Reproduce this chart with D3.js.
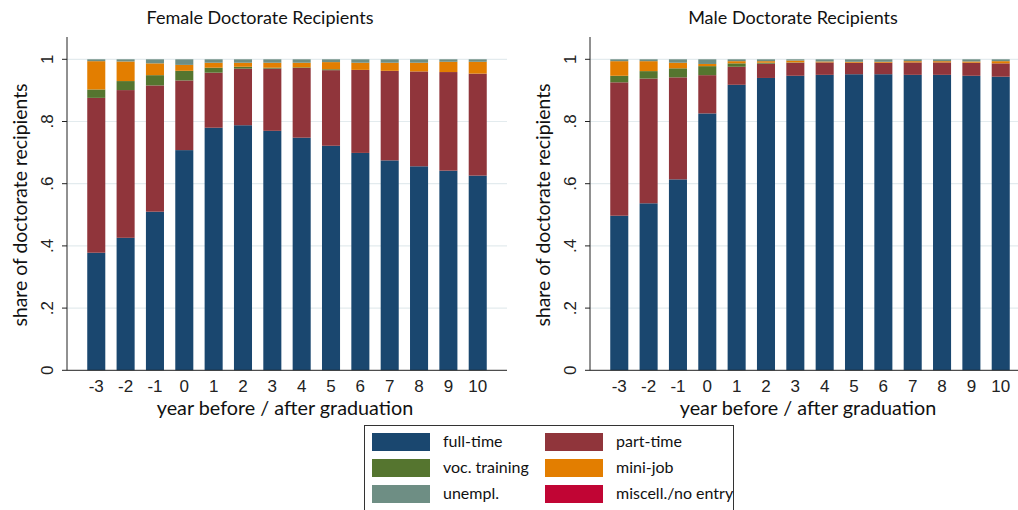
<!DOCTYPE html>
<html>
<head>
<meta charset="utf-8">
<script src="https://cdn.jsdelivr.net/npm/d3@7"></script>
<style>
  body { margin: 0; background: #fff; }
  svg { display: block; }
</style>
</head>
<body>
<div id="grafico"></div>
<script>
// categorias (anio antes / despues de la graduacion)
var years = ["-3","-2","-1","0","1","2","3","4","5","6","7","8","9","10"];
var yTicks = [0, 0.2, 0.4, 0.6, 0.8, 1];
var yTickLabels = ["0", ".2", ".4", ".6", ".8", "1"];

// mujeres
var femaleFull   = [0.378,0.426,0.510,0.708,0.780,0.788,0.770,0.748,0.722,0.699,0.675,0.656,0.642,0.626];
var femalePart   = [0.498,0.475,0.406,0.224,0.177,0.182,0.200,0.224,0.243,0.267,0.288,0.305,0.317,0.328];
var femaleVoc    = [0.027,0.029,0.033,0.031,0.016,0.006,0.003,0.002,0.003,0,0,0,0,0];
var femaleMini   = [0.091,0.063,0.038,0.019,0.016,0.013,0.016,0.015,0.023,0.023,0.026,0.028,0.033,0.038];
var femaleUnempl = [0.006,0.007,0.013,0.018,0.011,0.011,0.011,0.011,0.009,0.011,0.011,0.011,0.008,0.008];
var femaleMisc   = [0,0,0,0,0,0,0,0,0,0,0,0,0,0];

// hombres
var maleFull   = [0.497,0.537,0.614,0.826,0.918,0.940,0.947,0.950,0.952,0.952,0.950,0.950,0.947,0.944];
var malePart   = [0.429,0.401,0.328,0.123,0.058,0.046,0.042,0.040,0.037,0.037,0.040,0.040,0.042,0.043];
var maleVoc    = [0.021,0.024,0.029,0.029,0.011,0.003,0.001,0,0,0,0,0,0,0];
var maleMini   = [0.047,0.032,0.018,0.007,0.007,0.005,0.006,0.003,0.003,0.003,0.004,0.004,0.004,0.007];
var maleUnempl = [0.006,0.006,0.011,0.015,0.006,0.006,0.004,0.007,0.008,0.008,0.006,0.006,0.007,0.006];
var maleMisc   = [0,0,0,0,0,0,0,0,0,0,0,0,0,0];

var keys = ["full","part","voc","mini","unempl","misc"];
var legendLabels = ["full-time","part-time","voc. training","mini-job","unempl.","miscell./no entry"];
var colores = {full:"#1a476f", part:"#90353b", voc:"#55752f", mini:"#e37e00", unempl:"#6e8e84", misc:"#c10534"};

function tabla(full, part, voc, mini, unempl, misc) {
    return years.map(function (y, i) {
        return {year: y, full: full[i], part: part[i], voc: voc[i], mini: mini[i], unempl: unempl[i], misc: misc[i]};
    });
}

var W = 1018, H = 510;
var svg = d3.select("#grafico").append("svg").attr("width", W).attr("height", H);

var fuenteTitulo = "Lato, 'Open Sans', sans-serif";
var fuenteNum = "'Liberation Sans', Arial, sans-serif";

function panel(x0, titulo, centroTitulo, datos) {
    var pw = 440;          // ancho del area del grafico
    var yTop = 37;
    var y = d3.scaleLinear().domain([0, 1]).range([370.3, 59.3]);
    var x = d3.scaleBand().domain(years).range([x0, x0 + pw]).paddingInner(0.385).paddingOuter(0.69);

    var g = svg.append("g");

    // lineas de grilla
    g.selectAll("line.grid").data(yTicks.slice(1)).enter().append("line")
        .attr("x1", x0).attr("x2", x0 + pw)
        .attr("y1", function (d) { return y(d); }).attr("y2", function (d) { return y(d); })
        .attr("stroke", "#e3ebee").attr("stroke-width", 1.2);

    // barras apiladas
    var series = d3.stack().keys(keys)(datos);
    g.selectAll("g.serie").data(series).enter().append("g")
        .attr("fill", function (d) { return colores[d.key]; })
        .selectAll("rect").data(function (d) { return d; }).enter().append("rect")
        .attr("x", function (d) { return x(d.data.year); })
        .attr("width", x.bandwidth())
        .attr("y", function (d) { return y(d[1]); })
        .attr("height", function (d) { return Math.max(0, y(d[0]) - y(d[1])); });

    // ejes
    g.append("line").attr("x1", x0).attr("x2", x0).attr("y1", yTop).attr("y2", y(0))
        .attr("stroke", "#222").attr("stroke-width", 1);
    g.append("line").attr("x1", x0).attr("x2", x0 + pw).attr("y1", y(0)).attr("y2", y(0))
        .attr("stroke", "#222").attr("stroke-width", 1);

    g.selectAll("line.tick").data(yTicks).enter().append("line")
        .attr("x1", x0 - 5).attr("x2", x0)
        .attr("y1", function (d) { return y(d); }).attr("y2", function (d) { return y(d); })
        .attr("stroke", "#222");

    g.selectAll("text.ytick").data(yTicks).enter().append("text")
        .attr("transform", function (d) { return "translate(" + (x0 - 14) + "," + y(d) + ") rotate(-90)"; })
        .attr("text-anchor", "middle")
        .style("font-family", fuenteNum).style("font-size", "17px").style("fill", "#222")
        .text(function (d, i) { return yTickLabels[i]; });

    g.selectAll("text.xtick").data(years).enter().append("text")
        .attr("x", function (d) { return x(d) + x.bandwidth() / 2; })
        .attr("y", 392)
        .attr("text-anchor", "middle")
        .style("font-family", fuenteNum).style("font-size", "17px").style("fill", "#222")
        .text(function (d) { return d; });

    g.append("text").attr("x", x0 + 218).attr("y", 415).attr("text-anchor", "middle")
        .style("font-family", fuenteTitulo).style("font-size", "19.8px").style("fill", "#111")
        .text("year before / after graduation");

    g.append("text")
        .attr("transform", "translate(" + (x0 - 40) + "," + 205 + ") rotate(-90)")
        .attr("text-anchor", "middle")
        .style("font-family", fuenteTitulo).style("font-size", "19.4px").style("fill", "#111")
        .text("share of doctorate recipients");

    g.append("text").attr("x", centroTitulo).attr("y", 24).attr("text-anchor", "middle")
        .style("font-family", fuenteTitulo).style("font-size", "18px").style("fill", "#111")
        .text(titulo);
}

panel(67, "Female Doctorate Recipients", 260, tabla(femaleFull, femalePart, femaleVoc, femaleMini, femaleUnempl, femaleMisc));
panel(590, "Male Doctorate Recipients", 793, tabla(maleFull, malePart, maleVoc, maleMini, maleUnempl, maleMisc));

// leyenda
var ley = svg.append("g");
ley.append("rect").attr("x", 364.5).attr("y", 425.5).attr("width", 369).attr("height", 100)
    .attr("fill", "#fff").attr("stroke", "#333").attr("stroke-width", 1);
legendLabels.forEach(function (lab, i) {
    var col = i % 2, fila = Math.floor(i / 2);
    var sx = col == 0 ? 372 : 545;
    var sy = 433 + fila * 26;
    ley.append("rect").attr("x", sx).attr("y", sy).attr("width", 58).attr("height", 18)
        .attr("fill", colores[keys[i]]);
    ley.append("text").attr("x", sx + 71).attr("y", sy + 14)
        .style("font-family", fuenteTitulo).style("font-size", "16px").style("fill", "#111")
        .text(lab);
});
</script>
</body>
</html>
